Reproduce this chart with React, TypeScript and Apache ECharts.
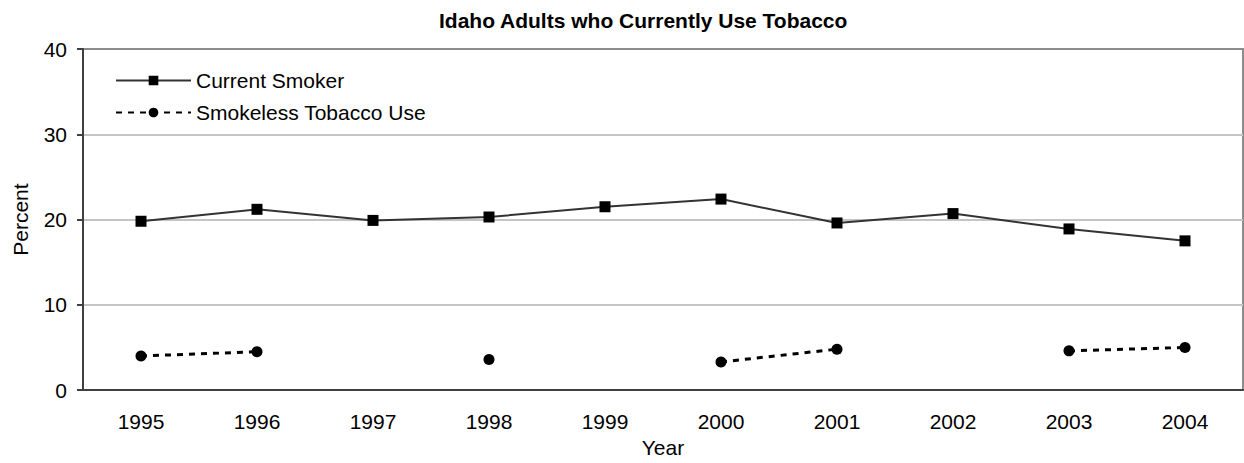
import React, { useEffect, useRef } from "react";
import * as echarts from "echarts";

// Survey years on the category axis
const years = ["1995", "1996", "1997", "1998", "1999", "2000", "2001", "2002", "2003", "2004"];

// Percent of adults who currently smoke
const currentSmoker = [19.8, 21.2, 19.9, 20.3, 21.5, 22.4, 19.6, 20.7, 18.9, 17.5];

// Percent of adults using smokeless tobacco (null where not surveyed)
const smokelessTobacco = [4.0, 4.5, null, 3.6, null, 3.3, 4.8, null, 4.6, 5.0];

// Percent axis ticks
const percentTicks = { min: 0, max: 40, interval: 10 };

const FONT = "Liberation Sans, Arial, Helvetica, sans-serif";
const FS = 21;

export default function App() {
  const ref = useRef<HTMLDivElement>(null);

  useEffect(() => {
    if (!ref.current) return;
    const chart = echarts.init(ref.current, undefined, { renderer: "svg" });

    chart.setOption({
      animation: false,
      backgroundColor: "#ffffff",
      textStyle: { fontFamily: FONT },
      title: {
        text: "Idaho Adults who Currently Use Tobacco",
        left: 434,
        top: 5,
        textStyle: { fontFamily: FONT, fontSize: FS, fontWeight: "bold", color: "#000" },
      },
      legend: {
        orient: "vertical",
        left: 110,
        top: 65,
        itemWidth: 75,
        itemHeight: 12,
        itemGap: 11,
        textStyle: { fontFamily: FONT, fontSize: FS, color: "#000" },
        data: ["Current Smoker", "Smokeless Tobacco Use"],
      },
      grid: {
        left: 83,
        right: 1,
        top: 49,
        bottom: 58,
        show: true,
        borderColor: "#8c8c8c",
        borderWidth: 2,
        containLabel: false,
      },
      xAxis: {
        type: "category",
        data: years,
        boundaryGap: true,
        name: "Year",
        nameLocation: "middle",
        nameGap: 37,
        nameTextStyle: { fontFamily: FONT, fontSize: FS, color: "#000" },
        axisLine: { show: true, lineStyle: { color: "#404040", width: 2 } },
        axisTick: { show: false },
        axisLabel: { fontFamily: FONT, fontSize: FS, color: "#000", margin: 21 },
        splitLine: { show: false },
      },
      yAxis: {
        type: "value",
        min: percentTicks.min,
        max: percentTicks.max,
        interval: percentTicks.interval,
        name: "Percent",
        nameLocation: "middle",
        nameGap: 52,
        nameRotate: 90,
        nameTextStyle: { fontFamily: FONT, fontSize: FS, color: "#000" },
        axisLine: { show: true, lineStyle: { color: "#404040", width: 2 } },
        axisTick: { show: true, length: 6, lineStyle: { color: "#404040", width: 2 } },
        axisLabel: { fontFamily: FONT, fontSize: FS, color: "#000", margin: 16 },
        splitLine: {
          show: true,
          lineStyle: {
            color: ["#c4c4c4", "#c4c4c4", "#c4c4c4", "#c4c4c4", "#8c8c8c"],
            width: 2,
          },
        },
      },
      series: [
        {
          name: "Current Smoker",
          type: "line",
          data: currentSmoker,
          symbol: "rect",
          symbolSize: 11,
          itemStyle: { color: "#000" },
          lineStyle: { color: "#333333", width: 2 },
          z: 3,
        },
        {
          name: "Smokeless Tobacco Use",
          type: "line",
          data: smokelessTobacco,
          connectNulls: false,
          symbol: "circle",
          symbolSize: 11,
          itemStyle: { color: "#000" },
          lineStyle: { color: "#000", width: 3, type: [6, 6] },
          z: 3,
        },
      ],
    });

    return () => chart.dispose();
  }, []);

  return (
    <div
      ref={ref}
      style={{ position: "absolute", left: 0, top: 0, width: 1244, height: 463 }}
    />
  );
}
